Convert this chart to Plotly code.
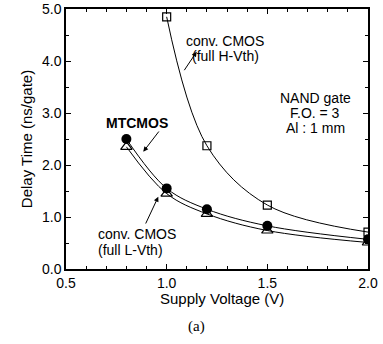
import plotly.graph_objects as go

# Data
voltage_h = [1.0, 1.2, 1.5, 2.0]
delay_h_vth = [4.85, 2.37, 1.23, 0.71]

voltage = [0.8, 1.0, 1.2, 1.5, 2.0]
delay_mtcmos = [2.50, 1.55, 1.15, 0.83, 0.57]
delay_l_vth = [2.35, 1.45, 1.06, 0.74, 0.51]

x_ticks = [0.5, 1.0, 1.5, 2.0]
y_ticks = [0.0, 1.0, 2.0, 3.0, 4.0, 5.0]

FONT = "Liberation Sans, Arial, Helvetica, sans-serif"

fig = go.Figure()

fig.add_trace(go.Scatter(
    x=voltage, y=delay_l_vth, mode="lines+markers",
    line=dict(color="black", width=1, shape="spline", smoothing=1.0),
    marker=dict(symbol="triangle-up-open", size=10, color="black", line=dict(width=1.2)),
    name="conv. CMOS (full L-Vth)"))
fig.add_trace(go.Scatter(
    x=voltage, y=delay_mtcmos, mode="lines+markers",
    line=dict(color="black", width=1, shape="spline", smoothing=1.0),
    marker=dict(symbol="circle", size=10, color="black"),
    name="MTCMOS"))
fig.add_trace(go.Scatter(
    x=voltage_h, y=delay_h_vth, mode="lines+markers",
    line=dict(color="black", width=1, shape="spline", smoothing=1.0),
    marker=dict(symbol="square-open", size=8, color="black", line=dict(width=1.2)),
    name="conv. CMOS (full H-Vth)"))

def X(px):
    return 0.5 + (px - 66) * 1.5 / 302

def Y(py):
    return (269 - py) / 52

ann = []
def text(t, px, py, size=13, xanchor="center", bold=False):
    ann.append(dict(x=X(px), y=Y(py), xref="x", yref="y", text=("<b>%s</b>" % t if bold else t),
                    showarrow=False, xanchor=xanchor, yanchor="middle",
                    font=dict(family=FONT, size=size, color="black")))

def arrow(hx, hy, tx, ty):
    ann.append(dict(x=X(hx), y=Y(hy), ax=X(tx), ay=Y(ty), xref="x", yref="y",
                    axref="x", ayref="y", text="", showarrow=True,
                    arrowhead=2, arrowsize=1, arrowwidth=1, arrowcolor="black"))

text("conv. CMOS", 225, 41, 14)
text("(full H-Vth)", 225, 56, 14)
arrow(196.7, 51.7, 183.3, 71.7)

text("MTCMOS", 137, 123, 14, bold=True)
arrow(143.3, 151.7, 160, 130)

text("conv. CMOS", 96, 234, 14, xanchor="left")
text("(full L-Vth)", 96, 250, 14, xanchor="left")
arrow(158.3, 196.7, 145, 225)

text("NAND gate", 315, 98, 14)
text("F.O. = 3", 315, 113, 14)
text("Al : 1 mm", 315, 128, 14)

# x-axis title and panel label
ann.append(dict(x=(222 - 66) / 302, y=(269 - 298) / 260, xref="paper", yref="paper",
                text="Supply Voltage (V)", showarrow=False, xanchor="center", yanchor="middle",
                font=dict(family=FONT, size=15, color="black")))
ann.append(dict(x=(196 - 66) / 302, y=(269 - 326) / 260, xref="paper", yref="paper",
                text="(a)", showarrow=False, xanchor="center", yanchor="middle",
                font=dict(family="Liberation Serif, Times New Roman, serif", size=15, color="black")))

axis_common = dict(showline=True, linecolor="black", linewidth=1.5, mirror="allticks",
                   ticks="inside", ticklen=5, tickwidth=1, tickcolor="black",
                   showgrid=False, zeroline=False,
                   tickfont=dict(family=FONT, size=14, color="black"))

fig.update_xaxes(range=[0.5, 2.0], tickvals=x_ticks, ticktext=["%.1f" % v for v in x_ticks],
                 minor=dict(dtick=0.1, ticks="inside", ticklen=3, tickcolor="black", showgrid=False),
                 **axis_common)
fig.update_yaxes(range=[0, 5.0], tickvals=y_ticks, ticktext=["%.1f" % v for v in y_ticks],
                 minor=dict(dtick=0.5, ticks="inside", ticklen=3, tickcolor="black", showgrid=False),
                 title=dict(text="Delay Time (ns/gate)", standoff=6,
                            font=dict(family=FONT, size=15, color="black")),
                 **axis_common)

fig.update_layout(width=383, height=344, margin=dict(l=66, r=15, t=9, b=75, autoexpand=False),
                  paper_bgcolor="white", plot_bgcolor="white", showlegend=False,
                  annotations=ann)

fig.write_html("out.html", config={"displayModeBar": False},
               post_script="document.body.style.margin='0';document.body.style.padding='0';")
